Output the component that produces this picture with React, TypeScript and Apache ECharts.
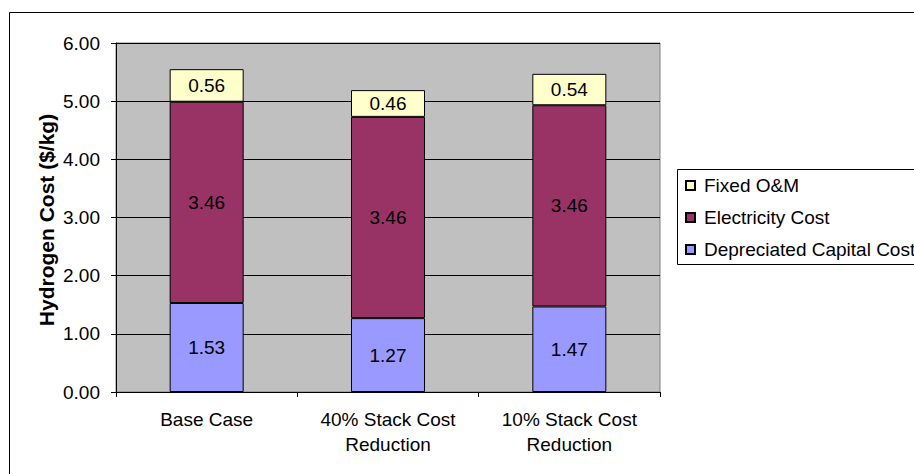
import React, { useEffect, useRef } from "react";
import * as echarts from "echarts";

const categories = ["Base Case", "40% Stack Cost\nReduction", "10% Stack Cost\nReduction"];
const depreciatedCapital = [1.53, 1.27, 1.47];
const electricityCost = [3.46, 3.46, 3.46];
const fixedOM = [0.56, 0.46, 0.54];
const yTicks = { min: 0, max: 6, interval: 1 };

const FONT = "'Liberation Sans', Arial, sans-serif";
const FS = 19;

export default function App() {
  const ref = useRef<HTMLDivElement>(null);
  useEffect(() => {
    if (!ref.current) return;
    const chart = echarts.init(ref.current, undefined, { renderer: "svg" });
    const label = {
      show: true,
      position: "inside",
      color: "#000",
      fontSize: FS,
      fontFamily: FONT,
      formatter: (p: any) => Number(p.value).toFixed(2),
    };
    const mk = (name: string, data: number[], color: string) => ({
      name,
      type: "bar",
      stack: "total",
      data,
      barWidth: 74,
      itemStyle: { color, borderColor: "#000", borderWidth: 1 },
      label,
      emphasis: { disabled: true },
    });
    chart.setOption({
      animation: false,
      textStyle: { fontFamily: FONT },
      grid: {
        left: 116,
        right: 254,
        top: 43,
        bottom: 82,
        show: true,
        backgroundColor: "#C0C0C0",
        borderColor: "#808080",
        borderWidth: 1,
      },
      graphic: [
        {
          type: "rect",
          z: -10,
          shape: { x: 9.5, y: 12.5, width: 1000, height: 1000 },
          style: { fill: "none", stroke: "#000", lineWidth: 1 },
        },
        {
          type: "rect",
          z: 0,
          shape: { x: 677.5, y: 169.5, width: 400, height: 95 },
          style: { fill: "#fff", stroke: "#000", lineWidth: 1 },
        },
        {
          type: "text",
          x: 46,
          y: 220,
          rotation: Math.PI / 2,
          style: {
            text: "Hydrogen Cost ($/kg)",
            font: "bold 21px " + FONT,
            fill: "#000",
            textAlign: "center",
            textVerticalAlign: "middle",
          },
        },
      ],
      legend: {
        orient: "vertical",
        left: 685,
        top: 176,
        padding: 0,
        itemWidth: 9,
        itemHeight: 9,
        itemGap: 13,
        icon: "rect",
        data: ["Fixed O&M", "Electricity Cost", "Depreciated Capital Cost"],
        textStyle: { fontSize: FS, lineHeight: 19, color: "#000", fontFamily: FONT, padding: [0, 0, 0, 4] },
        selectedMode: false,
        z: 10,
      },
      xAxis: {
        type: "category",
        data: categories,
        axisLine: { lineStyle: { color: "#000", width: 1 } },
        axisTick: { show: true, length: 5, lineStyle: { color: "#000" } },
        axisLabel: { color: "#000", fontSize: FS, lineHeight: 25, margin: 15, fontFamily: FONT, interval: 0 },
        splitLine: { show: false },
      },
      yAxis: {
        type: "value",
        min: yTicks.min,
        max: yTicks.max,
        interval: yTicks.interval,
        axisLine: { show: true, lineStyle: { color: "#000", width: 1 } },
        axisTick: { show: true, length: 5, lineStyle: { color: "#000" } },
        axisLabel: {
          color: "#000",
          fontSize: FS,
          margin: 16,
          fontFamily: FONT,
          formatter: (v: number) => v.toFixed(2),
        },
        splitLine: { show: true, lineStyle: { color: "#000", width: 1 } },
      },
      series: [
        mk("Depreciated Capital Cost", depreciatedCapital, "#9999FF"),
        mk("Electricity Cost", electricityCost, "#993366"),
        mk("Fixed O&M", fixedOM, "#FFFFCC"),
      ],
    });
    return () => chart.dispose();
  }, []);
  return (
    <div
      ref={ref}
      style={{ position: "fixed", left: 0, top: 0, width: 914, height: 474, background: "#fff" }}
    />
  );
}
